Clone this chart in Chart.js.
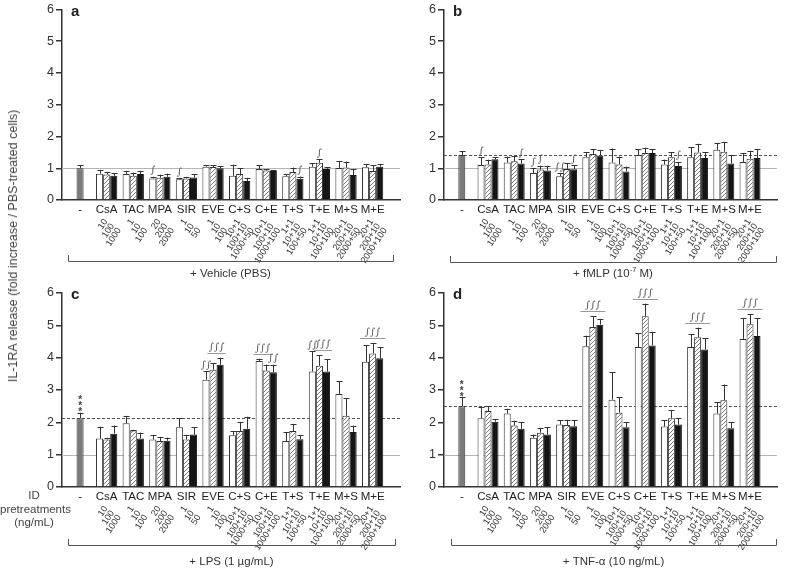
<!DOCTYPE html>
<html><head><meta charset="utf-8">
<script src="https://cdn.jsdelivr.net/npm/chart.js@4.4.1/dist/chart.umd.min.js"></script>
<style>
body{margin:0;background:#fff;width:789px;height:568px;position:relative;overflow:hidden;font-family:"Liberation Sans",Arial,sans-serif;color:#444}
canvas{position:absolute}
#ytitle{position:absolute;left:13px;top:246px;transform:translate(-50%,-50%) rotate(-90deg);white-space:nowrap;font-size:12.5px}
#idlab{position:absolute;left:0;width:68px;top:489px;text-align:center;font-size:11.5px;line-height:13.5px}
</style></head><body>
<canvas id="ca" width="405" height="280" style="left:0;top:0"></canvas>
<canvas id="cb" width="394" height="280" style="left:395px;top:0"></canvas>
<canvas id="cc" width="405" height="288" style="left:0;top:280px"></canvas>
<canvas id="cd" width="394" height="288" style="left:395px;top:280px"></canvas>
<div id="ytitle">IL-1RA release (fold increase / PBS-treated cells)</div>
<div id="idlab">ID<br>pretreatments<br>(ng/mL)</div>
<script>
// categories and doses (ng/mL)
const cats = ['-', 'CsA', 'TAC', 'MPA', 'SIR', 'EVE', 'C+S', 'C+E', 'T+S', 'T+E', 'M+S', 'M+E'];
const doses = [[], ['10','100','1000'], ['1','10','100'], ['20','200','2000'], ['1','10','50'], ['1','10','100'],
  ['10+1','100+10','1000+50'], ['10+1','100+10','1000+100'], ['1+1','10+10','100+50'], ['1+1','10+10','100+100'],
  ['20+1','200+10','2000+50'], ['20+1','200+10','2000+100']];
const yTicks = [0, 1, 2, 3, 4, 5, 6];

// a: vehicle
const aCtrl = [1.00, 0.10];
const aLow = [0.83,0.82,0.68,0.65,1.05,0.76,0.98,0.75,1.05,1.01,1.03];
const aLowErr = [0.12,0.10,0.05,0.03,0.05,0.35,0.12,0.06,0.10,0.22,0.10];
const aMid = [0.80,0.76,0.70,0.68,1.04,0.82,0.93,0.88,1.17,1.02,0.91];
const aMidErr = [0.08,0.10,0.10,0.05,0.05,0.18,0.04,0.14,0.12,0.19,0.18];
const aHigh = [0.76,0.82,0.73,0.71,1.00,0.60,0.91,0.67,0.98,0.79,1.05];
const aHighErr = [0.08,0.10,0.10,0.10,0.06,0.10,0.03,0.07,0.06,0.18,0.08];
const aMarks = [[3,0,0,'∫'],[4,0,0,'∫'],[8,2,2,'∫'],[9,1,1,'∫']];

// b: fMLP
const bCtrl = [1.42, 0.12];
const bLow = [1.10,1.18,0.85,0.75,1.35,1.18,1.42,1.12,1.35,1.58,1.20];
const bLowErr = [0.25,0.19,0.15,0.09,0.15,0.44,0.18,0.15,0.32,0.22,0.28];
const bMid = [1.12,1.22,0.96,0.98,1.45,1.12,1.48,1.35,1.50,1.52,1.30];
const bMidErr = [0.15,0.16,0.12,0.17,0.15,0.25,0.17,0.15,0.27,0.30,0.25];
const bHigh = [1.28,1.15,0.93,0.97,1.40,0.90,1.48,1.07,1.32,1.15,1.32];
const bHighErr = [0.07,0.13,0.15,0.13,0.17,0.15,0.12,0.13,0.18,0.27,0.28];
const bMarks = [[1,0,0,'∫'],[2,2,2,'∫'],[3,0,0,'∫'],[3,1,1,'∫'],[4,0,0,'∫∫'],[4,2,2,'∫'],[8,2,2,'∫']];

// c: LPS
const cCtrl = [2.13, 0.17];
const cLow = [1.50,1.97,1.47,1.85,3.32,1.60,3.90,1.42,3.57,2.88,3.87];
const cLowErr = [0.37,0.23,0.13,0.27,0.26,0.12,0.07,0.28,0.63,0.39,0.51];
const cMid = [1.47,1.75,1.42,1.47,3.63,1.73,3.60,1.73,3.75,2.20,4.13];
const cMidErr = [0.05,0.02,0.13,0.13,0.20,0.27,0.18,0.22,0.32,0.55,0.32];
const cHigh = [1.65,1.50,1.43,1.62,3.78,1.80,3.55,1.48,3.57,1.70,3.98];
const cHighErr = [0.25,0.18,0.10,0.23,0.22,0.37,0.23,0.12,0.38,0.20,0.35];
const cMarks = [[5,0,0,'∫∫'],[5,1,2,'∫∫∫'],[7,0,1,'∫∫∫'],[7,2,2,'∫∫'],[9,0,0,'∫∫'],[9,1,2,'∫∫∫'],[11,0,2,'∫∫∫']];

// d: TNF-a
const dCtrl = [2.50, 0.29];
const dLow = [2.13,2.27,1.52,1.93,4.35,2.70,4.33,1.87,4.33,2.27,4.58];
const dLowErr = [0.35,0.15,0.10,0.13,0.33,0.85,0.42,0.20,0.39,0.35,0.64];
const dMid = [2.35,1.90,1.68,1.92,4.95,2.30,5.28,2.13,4.63,2.68,5.03];
const dMidErr = [0.15,0.15,0.15,0.16,0.33,0.47,0.39,0.24,0.30,0.49,0.32];
const dHigh = [2.02,1.80,1.62,1.88,5.02,1.85,4.38,1.93,4.25,1.82,4.67];
const dHighErr = [0.08,0.20,0.23,0.19,0.18,0.15,0.42,0.19,0.35,0.18,0.55];
const dMarks = [[5,0,2,'∫∫∫'],[7,0,2,'∫∫∫'],[9,0,2,'∫∫∫'],[11,0,2,'∫∫∫']];

const FONT = '"Liberation Sans", Arial, sans-serif';

//hatched fill for the middle dose
function makeHatch() {
  const c = document.createElement('canvas');
  c.width = 4; c.height = 4;
  const g = c.getContext('2d');
  g.fillStyle = '#fff'; g.fillRect(0, 0, 4, 4);
  g.strokeStyle = '#7a7a7a'; g.lineWidth = 1;
  g.beginPath();
  g.moveTo(0, 4); g.lineTo(4, 0);
  g.moveTo(-1, 1); g.lineTo(1, -1);
  g.moveTo(3, 5); g.lineTo(5, 3);
  g.stroke();
  return g.createPattern(c, 'repeat');
}
const hatch = makeHatch();

const extras = {
  id: 'extras',
  beforeDatasetsDraw(chart, args, o) {
    const ctx = chart.ctx, a = chart.chartArea, y = chart.scales.y;
    ctx.save();
    ctx.lineWidth = 1;
    ctx.strokeStyle = '#b5b5b5';
    ctx.beginPath();
    ctx.moveTo(a.left, Math.round(y.getPixelForValue(1)) + 0.5);
    ctx.lineTo(a.right, Math.round(y.getPixelForValue(1)) + 0.5);
    ctx.stroke();
    if (o.ctrl[0] !== 1) {
      const py = Math.round(y.getPixelForValue(o.ctrl[0])) + 0.5;
      ctx.strokeStyle = '#555';
      ctx.setLineDash([3, 2]);
      ctx.beginPath(); ctx.moveTo(a.left, py); ctx.lineTo(a.right, py); ctx.stroke();
    }
    ctx.restore();
  },
  afterDatasetsDraw(chart, args, o) {
    const ctx = chart.ctx, y = chart.scales.y;
    ctx.save();
    ctx.strokeStyle = '#333';
    ctx.lineWidth = 1;
    const tops = [];
    chart.data.datasets.forEach((ds, di) => {
      const meta = chart.getDatasetMeta(di);
      tops[di] = [];
      meta.data.forEach((el, i) => {
        const v = ds.data[i].y;
        if (v === null) return;
        const t = y.getPixelForValue(v + ds.errs[i]);
        tops[di][i] = {x: el.x, w: el.width, t: t};
        const x = Math.round(el.x) + 0.5;
        ctx.beginPath();
        ctx.moveTo(x, el.y); ctx.lineTo(x, t);
        ctx.moveTo(x - 3, Math.round(t) + 0.5); ctx.lineTo(x + 3, Math.round(t) + 0.5);
        ctx.stroke();
      });
    });
    // significance marks
    ctx.fillStyle = '#555';
    ctx.strokeStyle = '#999';
    ctx.textAlign = 'center';
    ctx.textBaseline = 'bottom';
    ctx.font = 'italic 10px "DejaVu Serif", serif';
    o.marks.forEach(m => {
      const bars = [];
      for (let j = m[1]; j <= m[2]; j++) bars.push(tops[j][m[0]]);
      const top = Math.min(...bars.map(b => b.t));
      const x0 = bars[0].x - bars[0].w / 2, x1 = bars[bars.length - 1].x + bars[bars.length - 1].w / 2;
      if (m[1] === m[2]) {
        ctx.fillText(m[3], bars[0].x, top - 1);
      } else {
        const ly = Math.round(top - 5) + 0.5;
        ctx.beginPath(); ctx.moveTo(x0 - 2, ly); ctx.lineTo(x1 + 2, ly); ctx.stroke();
        ctx.fillText(m[3], (x0 + x1) / 2, ly - 1);
      }
    });
    if (o.stars) {
      const b = tops[1][0];
      ctx.font = 'bold 10px ' + FONT;
      ctx.fillStyle = '#444';
      for (let k = 0; k < 3; k++) ctx.fillText('*', b.x, b.t + 5 - k * 6);
    }
    ctx.restore();
  },
  afterDraw(chart, args, o) {
    const ctx = chart.ctx, a = chart.chartArea;
    ctx.save();
    // panel letter
    ctx.fillStyle = '#222';
    ctx.font = 'bold 15px ' + FONT;
    ctx.textAlign = 'left';
    ctx.textBaseline = 'alphabetic';
    ctx.fillText(o.letter, a.left + 9, a.top + 6);
    // dose labels, one rotated block per category
    const meta = chart.getDatasetMeta(1);
    ctx.font = '9px ' + FONT;
    ctx.fillStyle = '#333';
    ctx.textAlign = 'right';
    ctx.textBaseline = 'middle';
    doses.forEach((d, i) => {
      if (!d.length) return;
      const el = meta.data[i];
      ctx.save();
      ctx.translate(el.x - 1, a.bottom + 20);
      ctx.rotate(-57 * Math.PI / 180);
      d.forEach((t, j) => ctx.fillText(t, 0, j * 8));
      ctx.restore();
    });
    // bracket
    ctx.strokeStyle = '#555';
    ctx.lineWidth = 1;
    ctx.beginPath();
    ctx.moveTo(o.bx[0] + 0.5, o.by - 6);
    ctx.lineTo(o.bx[0] + 0.5, o.by + 0.5);
    ctx.lineTo(o.bx[1] + 0.5, o.by + 0.5);
    ctx.lineTo(o.bx[1] + 0.5, o.by - 6);
    ctx.stroke();
    // bracket label, with superscript pieces
    ctx.fillStyle = '#333';
    ctx.textAlign = 'left';
    ctx.textBaseline = 'alphabetic';
    const parts = o.label;
    const widths = parts.map(p => { ctx.font = (p.sup ? '7.5px ' : '11.5px ') + FONT; return ctx.measureText(p.t).width; });
    let x = (o.bx[0] + o.bx[1]) / 2 - widths.reduce((s, w) => s + w, 0) / 2;
    parts.forEach((p, k) => {
      ctx.font = (p.sup ? '7.5px ' : '11.5px ') + FONT;
      ctx.fillText(p.t, x, o.ly + (p.sup ? -5 : 0));
      x += widths[k];
    });
    ctx.restore();
  }
};

function makePanel(p) {
  const pts = (arr, first) => cats.map((c, i) => ({x: i, y: i === 0 ? first : arr[i - 1]}));
  const errs = (arr, first) => cats.map((c, i) => i === 0 ? first : arr[i - 1]);
  const canvas = document.getElementById(p.id);
  const W = canvas.width, H = canvas.height;
  new Chart(canvas, {
    type: 'bar',
    data: {
      datasets: [{
        data: pts(p.low, null), errs: errs(p.lowErr, 0),
        backgroundColor: '#fff', borderColor: '#333', borderWidth: 1
      }, {
        data: pts(p.mid, p.ctrl[0]), errs: errs(p.midErr, p.ctrl[1]),
        backgroundColor: cats.map((c, i) => i === 0 ? '#7b7b7b' : hatch), borderColor: '#333', borderWidth: 1
      }, {
        data: pts(p.high, null), errs: errs(p.highErr, 0),
        backgroundColor: '#151515', borderColor: '#151515', borderWidth: 1
      }]
    },
    options: {
      responsive: false,
      animation: false,
      events: [],
      categoryPercentage: 0.8,
      barPercentage: 1.0,
      layout: {padding: {left: 0, top: p.top, right: W - p.right, bottom: H - p.bottom - 16}},
      plugins: {
        legend: {display: false},
        tooltip: {enabled: false},
        extras: p
      },
      scales: {
        x: {
          type: 'linear',
          min: -0.15, max: 11.5,
          afterBuildTicks: s => { s.ticks = cats.map((c, i) => ({value: i})); },
          afterFit: s => { s.height = 16; },
          grid: {display: false, drawTicks: false},
          border: {color: '#333', width: 1.5},
          ticks: {color: '#222', padding: 3, maxRotation: 0, autoSkip: false,
            font: {size: 11.5, family: FONT}, callback: v => cats[v]}
        },
        y: {
          min: 0, max: 6,
          afterBuildTicks: s => { s.ticks = yTicks.map(v => ({value: v})); },
          afterFit: s => { s.width = p.left; },
          grid: {display: true, drawOnChartArea: false, tickLength: 6, color: '#333', lineWidth: 1.5},
          border: {color: '#333', width: 1.5},
          ticks: {color: '#333', padding: 2, font: {size: 12.5, family: FONT}}
        }
      }
    },
    plugins: [extras]
  });
}

makePanel({id: 'ca', letter: 'a', ctrl: aCtrl, low: aLow, lowErr: aLowErr, mid: aMid, midErr: aMidErr, high: aHigh, highErr: aHighErr,
  marks: aMarks, stars: false, left: 62, top: 7, right: 400, bottom: 200, bx: [68, 393], by: 261, ly: 277,
  label: [{t: '+ Vehicle (PBS)'}]});
makePanel({id: 'cb', letter: 'b', ctrl: bCtrl, low: bLow, lowErr: bLowErr, mid: bMid, midErr: bMidErr, high: bHigh, highErr: bHighErr,
  marks: bMarks, stars: false, left: 49, top: 7, right: 382, bottom: 200, bx: [55, 381], by: 262, ly: 277,
  label: [{t: '+ fMLP (10'}, {t: '-7', sup: true}, {t: ' M)'}]});
makePanel({id: 'cc', letter: 'c', ctrl: cCtrl, low: cLow, lowErr: cLowErr, mid: cMid, midErr: cMidErr, high: cHigh, highErr: cHighErr,
  marks: cMarks, stars: true, left: 62, top: 13, right: 400, bottom: 207, bx: [68, 395], by: 265, ly: 285,
  label: [{t: '+ LPS (1 µg/mL)'}]});
makePanel({id: 'cd', letter: 'd', ctrl: dCtrl, low: dLow, lowErr: dLowErr, mid: dMid, midErr: dMidErr, high: dHigh, highErr: dHighErr,
  marks: dMarks, stars: true, left: 49, top: 13, right: 382, bottom: 207, bx: [56, 381], by: 265, ly: 285,
  label: [{t: '+ TNF-α (10 ng/mL)'}]});
</script>
</body></html>
